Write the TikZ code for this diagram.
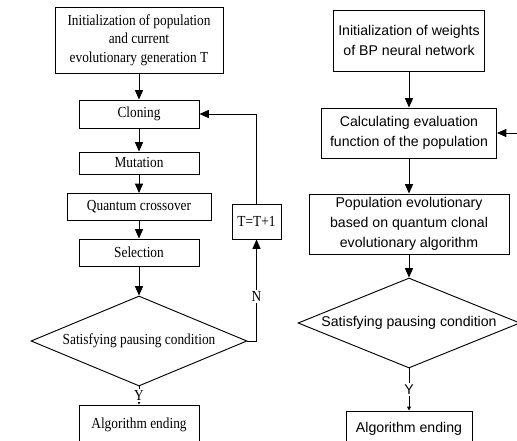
\documentclass[tikz,border=0pt]{standalone}
\usepackage{fontspec}
\setmainfont{Liberation Serif}[FakeStretch=0.87]
\setsansfont{Liberation Sans}
\usetikzlibrary{shapes.geometric,arrows.meta}
\tikzset{
    lbox/.style={draw, rectangle, align=center, inner sep=1pt, font=\fontsize{11.5}{13.9}\selectfont},
    rbox/.style={draw, rectangle, align=center, inner sep=1pt, font=\sffamily\fontsize{10.6}{15}\selectfont},
    cond/.style={draw, diamond, aspect=2.4, inner sep=0pt, align=center},
    arr/.style={-{Triangle[length=7pt,width=6pt]}},
    tip/.style={-{Triangle[length=3pt,width=3pt]}},
    lab/.style={fill=white, inner sep=1pt}
}
\begin{document}
\begin{tikzpicture}[x=0.75pt, y=-0.75pt, line width=0.7pt]
                \useasboundingbox (0,0) rectangle (517,441);
                \clip (0,0) rectangle (517,441);

                % left chart
                \node[lbox, minimum width=126pt, minimum height=49.5pt] (A) at (139,40) {Initialization of population\\and current\\evolutionary generation T};
                \node[lbox, minimum width=90pt, minimum height=21pt] (B) at (139,114) {Cloning};
                \node[lbox, minimum width=90pt, minimum height=16.5pt] (C) at (139,163) {Mutation};
                \node[lbox, minimum width=108pt, minimum height=20.25pt] (D) at (139,207) {Quantum crossover};
                \node[lbox, minimum width=90pt, minimum height=20.25pt] (E) at (139,252.5) {Selection};
                \node[cond, font=\fontsize{11.5}{12}\selectfont, minimum width=162pt, minimum height=67.5pt] (F) at (139,341) {Satisfying pausing condition};
                \node[lbox, minimum width=90pt, minimum height=30pt] (G) at (139,425) {Algorithm ending};
                \node[lbox, minimum width=36.75pt, minimum height=26.25pt] (H) at (256.5,221.5) {T=T+1};

                \draw[arr] (A) -- (B);
                \draw[arr] (B) -- (C);
                \draw[arr] (C) -- (D);
                \draw[arr] (D) -- (E);
                \draw[arr] (E) -- (F);
                \draw[tip] (F.south) -- node[lab, font=\fontsize{11.5}{12}\selectfont] {Y} (G);
                \draw[arr] (F.east) -| node[lab, pos=0.72, font=\fontsize{11.5}{12}\selectfont] {N} (H.south);
                \draw[arr] (H.north) |- (B.east);

                % right chart
                \node[rbox, minimum width=113.25pt, minimum height=45.75pt] (K) at (409,40.5) {Initialization of weights\\of BP neural network};
                \node[rbox, minimum width=131.25pt, minimum height=37.5pt] (L) at (409,133) {Calculating evaluation\\function of the population};
                \node[rbox, minimum width=150pt, minimum height=45pt] (M) at (409,224) {Population evolutionary\\based on quantum clonal\\evolutionary algorithm};
                \node[cond, font=\sffamily\fontsize{10.6}{12}\selectfont, minimum width=166.5pt, minimum height=67.5pt] (N) at (409,323) {Satisfying pausing condition};
                \node[rbox, minimum width=94.5pt, minimum height=27pt] (P) at (409,429) {Algorithm ending};
                \coordinate (Q) at (527,133);

                \draw[arr] (K) -- (L);
                \draw[arr] (L) -- (M);
                \draw[arr] (M) -- (N);
                \draw[tip] (N.south) -- node[lab, font=\sffamily\fontsize{10.6}{12}\selectfont] {Y} (P);
                \draw[arr] (N.east) -| (Q) -- (L.east);
            \end{tikzpicture}
\end{document}
